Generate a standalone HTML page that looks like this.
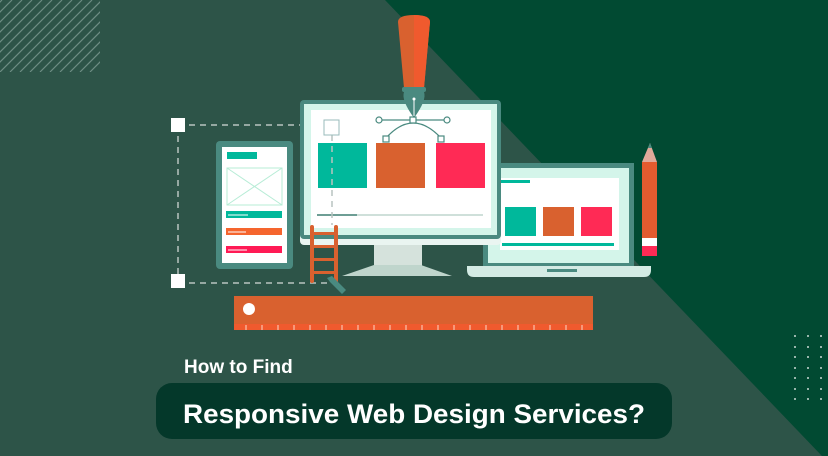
<!DOCTYPE html>
<html><head><meta charset="utf-8"><style>
html,body{margin:0;padding:0;width:828px;height:456px;overflow:hidden;background:#2d5448}
svg{display:block}
text{font-family:"Liberation Sans",sans-serif;font-weight:bold;fill:#fff}
</style></head><body>
<svg width="828" height="456" viewBox="0 0 828 456" xmlns="http://www.w3.org/2000/svg">
<rect width="828" height="456" fill="#2d5448"/>
<polygon points="385,0 828,0 828,456 822,456" fill="#014a32"/>
<!-- stripes -->
<g stroke="#7e9c93" stroke-width="1.2" opacity="0.8">
<clipPath id="c1"><rect x="0" y="0" width="100" height="72"/></clipPath>
<g clip-path="url(#c1)">
<line x1="-70" y1="72" x2="2" y2="0"/><line x1="-60" y1="72" x2="12" y2="0"/><line x1="-50" y1="72" x2="22" y2="0"/><line x1="-40" y1="72" x2="32" y2="0"/><line x1="-30" y1="72" x2="42" y2="0"/><line x1="-20" y1="72" x2="52" y2="0"/><line x1="-10" y1="72" x2="62" y2="0"/><line x1="0" y1="72" x2="72" y2="0"/><line x1="10" y1="72" x2="82" y2="0"/><line x1="20" y1="72" x2="92" y2="0"/><line x1="30" y1="72" x2="102" y2="0"/><line x1="40" y1="72" x2="112" y2="0"/><line x1="50" y1="72" x2="122" y2="0"/><line x1="60" y1="72" x2="132" y2="0"/><line x1="70" y1="72" x2="142" y2="0"/><line x1="80" y1="72" x2="152" y2="0"/><line x1="90" y1="72" x2="162" y2="0"/>
</g></g>
<!-- dots -->
<g fill="#c9d8d2">
<circle cx="795" cy="336" r="1"/><circle cx="808" cy="336" r="1"/><circle cx="821" cy="336" r="1"/>
<circle cx="795" cy="347" r="1"/><circle cx="808" cy="347" r="1"/><circle cx="821" cy="347" r="1"/>
<circle cx="795" cy="357" r="1"/><circle cx="808" cy="357" r="1"/><circle cx="821" cy="357" r="1"/>
<circle cx="795" cy="368" r="1"/><circle cx="808" cy="368" r="1"/><circle cx="821" cy="368" r="1"/>
<circle cx="795" cy="378" r="1"/><circle cx="808" cy="378" r="1"/><circle cx="821" cy="378" r="1"/>
<circle cx="795" cy="389" r="1"/><circle cx="808" cy="389" r="1"/><circle cx="821" cy="389" r="1"/>
<circle cx="795" cy="399" r="1"/><circle cx="808" cy="399" r="1"/><circle cx="821" cy="399" r="1"/>
</g>
<!-- dashed box -->
<g stroke="#b9c4c0" stroke-width="1.5" stroke-dasharray="6,5" fill="none">
<line x1="178" y1="125" x2="330" y2="125"/><line x1="178" y1="125" x2="178" y2="281"/><line x1="178" y1="283" x2="330" y2="283"/><line x1="332" y1="135" x2="332" y2="230"/>
</g>
<rect x="171" y="118" width="14" height="14" fill="#fff"/>
<rect x="171" y="274" width="14" height="14" fill="#fff"/>
<!-- phone -->
<rect x="216" y="141" width="77" height="128" rx="4" fill="#4a8a80"/>
<rect x="222" y="147" width="65" height="116" fill="#fff"/>
<rect x="227" y="152" width="30" height="7" fill="#00b89b"/>
<rect x="227" y="168" width="55" height="37" fill="none" stroke="#b7ecd6" stroke-width="1"/>
<line x1="227" y1="168" x2="282" y2="205" stroke="#b7ecd6"/><line x1="282" y1="168" x2="227" y2="205" stroke="#b7ecd6"/>
<rect x="226" y="211" width="56" height="7" fill="#00b89b"/>
<rect x="226" y="228" width="56" height="7" fill="#f5652e"/>
<rect x="226" y="246" width="56" height="7" fill="#ff1a55"/>
<g stroke="#fff" stroke-width="1"><line x1="228" y1="215" x2="248" y2="215"/><line x1="228" y1="232" x2="246" y2="232"/><line x1="228" y1="250" x2="247" y2="250"/></g>
<!-- laptop -->
<rect x="483" y="163" width="151" height="104" fill="#4a8a80"/>
<rect x="488" y="168" width="141" height="95" fill="#d4f5ea"/>
<rect x="500" y="178" width="119" height="72" fill="#fff"/>
<rect x="500" y="180" width="30" height="3" fill="#00b89b"/>
<rect x="505" y="207" width="31" height="29" fill="#00b89b"/>
<rect x="543" y="207" width="31" height="29" fill="#d9612f"/>
<rect x="581" y="207" width="31" height="29" fill="#ff2a55"/>
<rect x="502" y="243" width="112" height="3" fill="#00b89b"/>
<path d="M467 266 H651 V270 Q651 277 644 277 H474 Q467 277 467 270Z" fill="#d4ebe4"/>
<rect x="547" y="269" width="30" height="3" fill="#4a8a80"/>
<!-- pencil -->
<rect x="642" y="162" width="15" height="94" fill="#e35b2f"/>
<polygon points="642,162 657,162 650,143" fill="#e0a99a"/>
<polygon points="648,148 652,148 650,143" fill="#4a8a80"/>
<rect x="642" y="238" width="15" height="8" fill="#fff"/>
<rect x="642" y="246" width="15" height="10" fill="#ff2a55"/>
<!-- monitor -->
<rect x="374" y="245" width="48" height="21" fill="#d5e2dc"/>
<polygon points="374,265 421,265 452,276 342,276" fill="#bfd5cc"/>
<rect x="300" y="232" width="201" height="13" rx="4" fill="#eaf5f1"/>
<rect x="300" y="100" width="201" height="139" rx="4" fill="#4a8a80"/>
<rect x="304" y="104" width="193" height="131" fill="#d4f5ea"/>
<rect x="311" y="110" width="180" height="118" fill="#fff"/>
<rect x="318" y="143" width="49" height="45" fill="#00b89b"/>
<rect x="376" y="143" width="49" height="45" fill="#d9612f"/>
<rect x="436" y="143" width="49" height="45" fill="#ff2a55"/>
<rect x="317" y="214" width="166" height="2" fill="#cfe0da"/>
<rect x="317" y="214" width="40" height="2" fill="#6e9e95"/>
<line x1="332" y1="135" x2="332" y2="225" stroke="#b9c4c0" stroke-width="1.5" stroke-dasharray="6,5"/>
<rect x="324" y="120" width="15" height="15" fill="#fff" stroke="#9bb" stroke-width="1"/>
<!-- bezier handles -->
<g stroke="#4a8a80" stroke-width="1.2" fill="#fff">
<line x1="379" y1="120" x2="445" y2="120"/>
<path d="M386 138 Q413 108 441 138" fill="none"/>
<circle cx="379" cy="120" r="3"/><circle cx="447" cy="120" r="3"/>
<rect x="410" y="117" width="6" height="6"/><rect x="383" y="136" width="6" height="6"/><rect x="438" y="136" width="6" height="6"/>
</g>
<!-- pen -->
<path d="M398 22 Q398 15 414 15 Q430 15 430 22 L424 88 H404Z" fill="#d9612f"/>
<path d="M414 15 Q430 15 430 22 L424 88 H414Z" fill="#f05a2e"/>
<rect x="402" y="87" width="24" height="5" rx="2" fill="#4a8a80"/>
<path d="M404 92 H424 Q427 100 414 118 Q401 100 404 92Z" fill="#4a8a80"/>
<line x1="414" y1="100" x2="414" y2="116" stroke="#fff" stroke-width="1"/><circle cx="414" cy="99" r="1.5" fill="#fff"/>
<!-- ladder -->
<g fill="#d9612f">
<rect x="310" y="225" width="4" height="58" rx="2"/><rect x="334" y="225" width="4" height="58" rx="2"/>
<rect x="313" y="232" width="22" height="3"/><rect x="313" y="245" width="22" height="3"/><rect x="313" y="258" width="22" height="3"/><rect x="313" y="271" width="22" height="3"/>
</g>
<polygon points="327,278 332,276 346,290 342,294 330,282" fill="#4a8a80"/>
<!-- ruler -->
<rect x="234" y="296" width="359" height="34" fill="#d9612f"/>
<rect x="234" y="324" width="359" height="6" fill="#f05a2e"/>
<g stroke="#fbd5c5" stroke-width="1">
<line x1="246" y1="325" x2="246" y2="330"/><line x1="262" y1="325" x2="262" y2="330"/><line x1="278" y1="325" x2="278" y2="330"/><line x1="294" y1="325" x2="294" y2="330"/><line x1="310" y1="325" x2="310" y2="330"/><line x1="326" y1="325" x2="326" y2="330"/><line x1="342" y1="325" x2="342" y2="330"/><line x1="358" y1="325" x2="358" y2="330"/><line x1="374" y1="325" x2="374" y2="330"/><line x1="390" y1="325" x2="390" y2="330"/><line x1="406" y1="325" x2="406" y2="330"/><line x1="422" y1="325" x2="422" y2="330"/><line x1="438" y1="325" x2="438" y2="330"/><line x1="454" y1="325" x2="454" y2="330"/><line x1="470" y1="325" x2="470" y2="330"/><line x1="486" y1="325" x2="486" y2="330"/><line x1="502" y1="325" x2="502" y2="330"/><line x1="518" y1="325" x2="518" y2="330"/><line x1="534" y1="325" x2="534" y2="330"/><line x1="550" y1="325" x2="550" y2="330"/><line x1="566" y1="325" x2="566" y2="330"/><line x1="582" y1="325" x2="582" y2="330"/>
</g>
<circle cx="249" cy="309" r="6" fill="#fff"/>
<!-- title -->
<text x="184" y="373" font-size="19">How to Find</text>
<rect x="156" y="383" width="516" height="56" rx="16" fill="#04382a"/>
<text x="183" y="423" font-size="27" textLength="462" lengthAdjust="spacingAndGlyphs">Responsive Web Design Services?</text>
</svg>
</body></html>
